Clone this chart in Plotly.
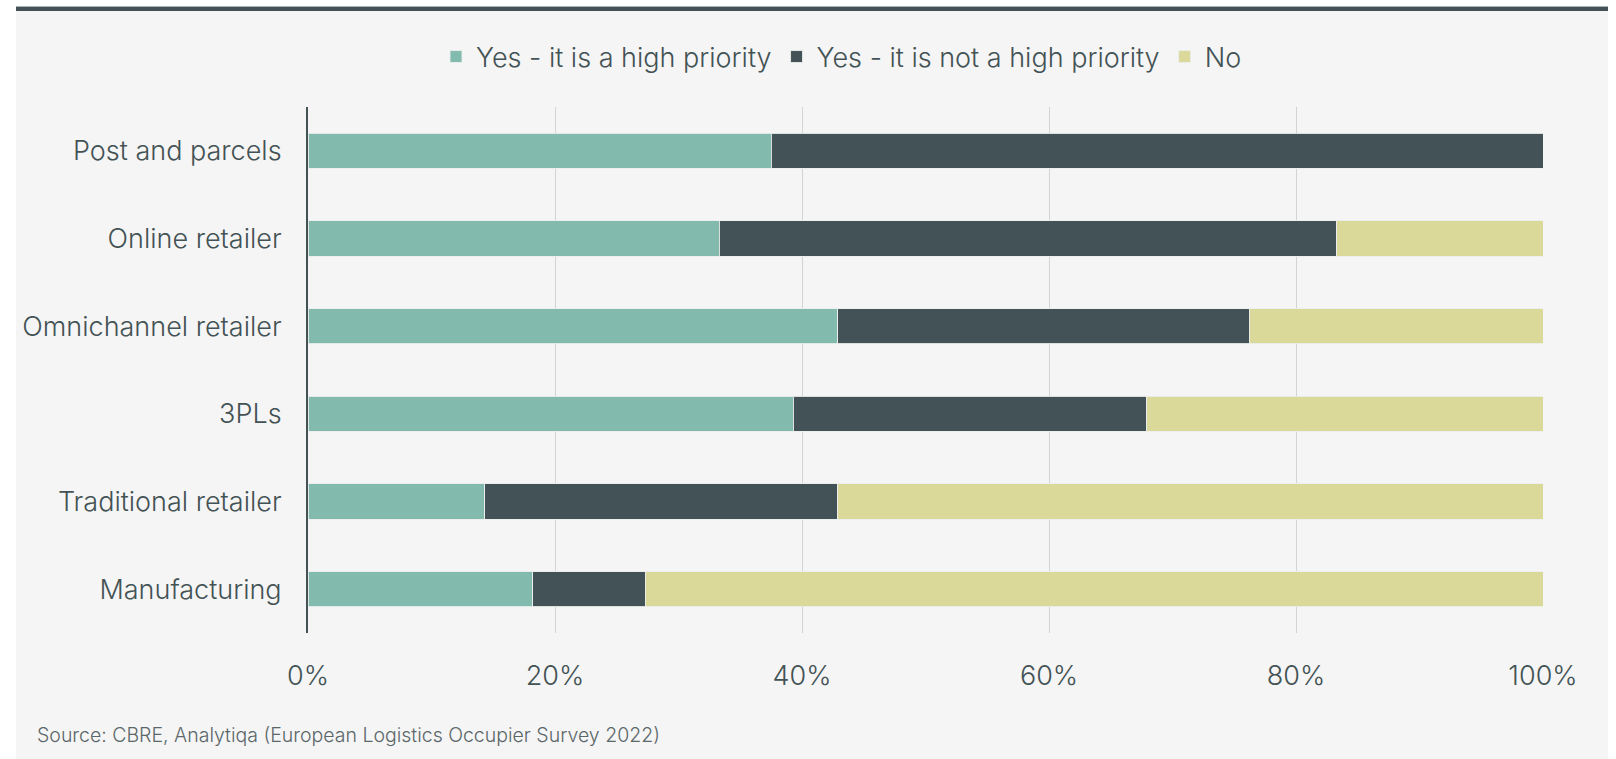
import plotly.graph_objects as go

# Survey answers by occupier type (share of respondents, %)
categories = [
    "Post and parcels",
    "Online retailer",
    "Omnichannel retailer",
    "3PLs",
    "Traditional retailer",
    "Manufacturing",
]
high_priority = [37.5, 33.3, 42.9, 39.3, 14.3, 18.2]
not_high_priority = [62.5, 50.0, 33.3, 28.6, 28.6, 9.1]
no_answer = [0.0, 16.7, 23.8, 32.1, 57.1, 72.7]

series_names = ["Yes - it is a high priority", "Yes - it is not a high priority", "No"]
series_colors = ["#82bbad", "#435256", "#dbd99a"]
x_ticks = [0, 20, 40, 60, 80, 100]
x_tick_labels = ["0%", "20%", "40%", "60%", "80%", "100%"]
source_note = "Source: CBRE, Analytiqa (European Logistics Occupier Survey 2022)"

W, H = 1616, 759
L, R, T, B = 308, 1543, 107, 633  # plot area in pixels

TEXT = "#435254"
FONT = "Inter"


def px_x(px):
    return (px - L) / (R - L)


def px_y(py):
    return (B - py) / (B - T)


fig = go.Figure()
for name, vals, color in zip(series_names, [high_priority, not_high_priority, no_answer], series_colors):
    fig.add_trace(
        go.Bar(
            name=name,
            y=categories,
            x=vals,
            orientation="h",
            marker=dict(color=color, line=dict(color="rgba(235,238,236,0.9)", width=1)),
            hoverinfo="name+x",
        )
    )

shapes = [
    # white frame around the grey panel
    dict(type="rect", xref="paper", yref="paper", x0=px_x(0), x1=px_x(W), y0=px_y(0), y1=px_y(6),
         fillcolor="white", line=dict(width=0), layer="below"),
    dict(type="rect", xref="paper", yref="paper", x0=px_x(0), x1=px_x(16), y0=px_y(0), y1=px_y(H),
         fillcolor="white", line=dict(width=0), layer="below"),
    dict(type="rect", xref="paper", yref="paper", x0=px_x(1608), x1=px_x(W), y0=px_y(0), y1=px_y(H),
         fillcolor="white", line=dict(width=0), layer="below"),
    # header rule
    dict(type="rect", xref="paper", yref="paper", x0=px_x(16), x1=px_x(1608), y0=px_y(6), y1=px_y(7),
         fillcolor="#aab2b2", line=dict(width=0)),
    dict(type="rect", xref="paper", yref="paper", x0=px_x(16), x1=px_x(1608), y0=px_y(7), y1=px_y(11),
         fillcolor="#435254", line=dict(width=0)),
]

fig.update_layout(
    width=W,
    height=H,
    margin=dict(l=L, r=W - R, t=T, b=H - B, pad=0),
    paper_bgcolor="#f5f5f5",
    plot_bgcolor="#f5f5f5",
    barmode="stack",
    bargap=0.6,
    font=dict(family=FONT, color=TEXT, size=27, weight=300),
    showlegend=True,
    legend=dict(
        orientation="h",
        x=px_x(436),
        xanchor="left",
        y=px_y(57),
        yanchor="middle",
        font=dict(family=FONT, size=27, color=TEXT, weight=300),
        bgcolor="rgba(0,0,0,0)",
        traceorder="normal",
    ),
    xaxis=dict(
        range=[0, 100],
        tickvals=x_ticks,
        ticktext=x_tick_labels,
        showgrid=True,
        gridcolor="#d2d4d4",
        gridwidth=1,
        zeroline=False,
        showline=False,
        ticks="outside",
        ticklen=19,
        tickcolor="rgba(0,0,0,0)",
        tickfont=dict(family=FONT, size=27, color=TEXT, weight=300),
        fixedrange=True,
    ),
    yaxis=dict(
        categoryorder="array",
        categoryarray=categories,
        autorange="reversed",
        showgrid=False,
        showline=True,
        linecolor="#435254",
        linewidth=2,
        ticks="outside",
        ticklen=19,
        tickcolor="rgba(0,0,0,0)",
        tickfont=dict(family=FONT, size=27, color=TEXT, weight=300),
        fixedrange=True,
    ),
    shapes=shapes,
    annotations=[
        dict(
            text=source_note,
            xref="paper",
            yref="paper",
            x=px_x(35),
            y=px_y(735),
            xanchor="left",
            yanchor="middle",
            showarrow=False,
            font=dict(family=FONT, size=19.5, color="#5b6769", weight=300),
        )
    ],
)

fig.write_html("out.html")
